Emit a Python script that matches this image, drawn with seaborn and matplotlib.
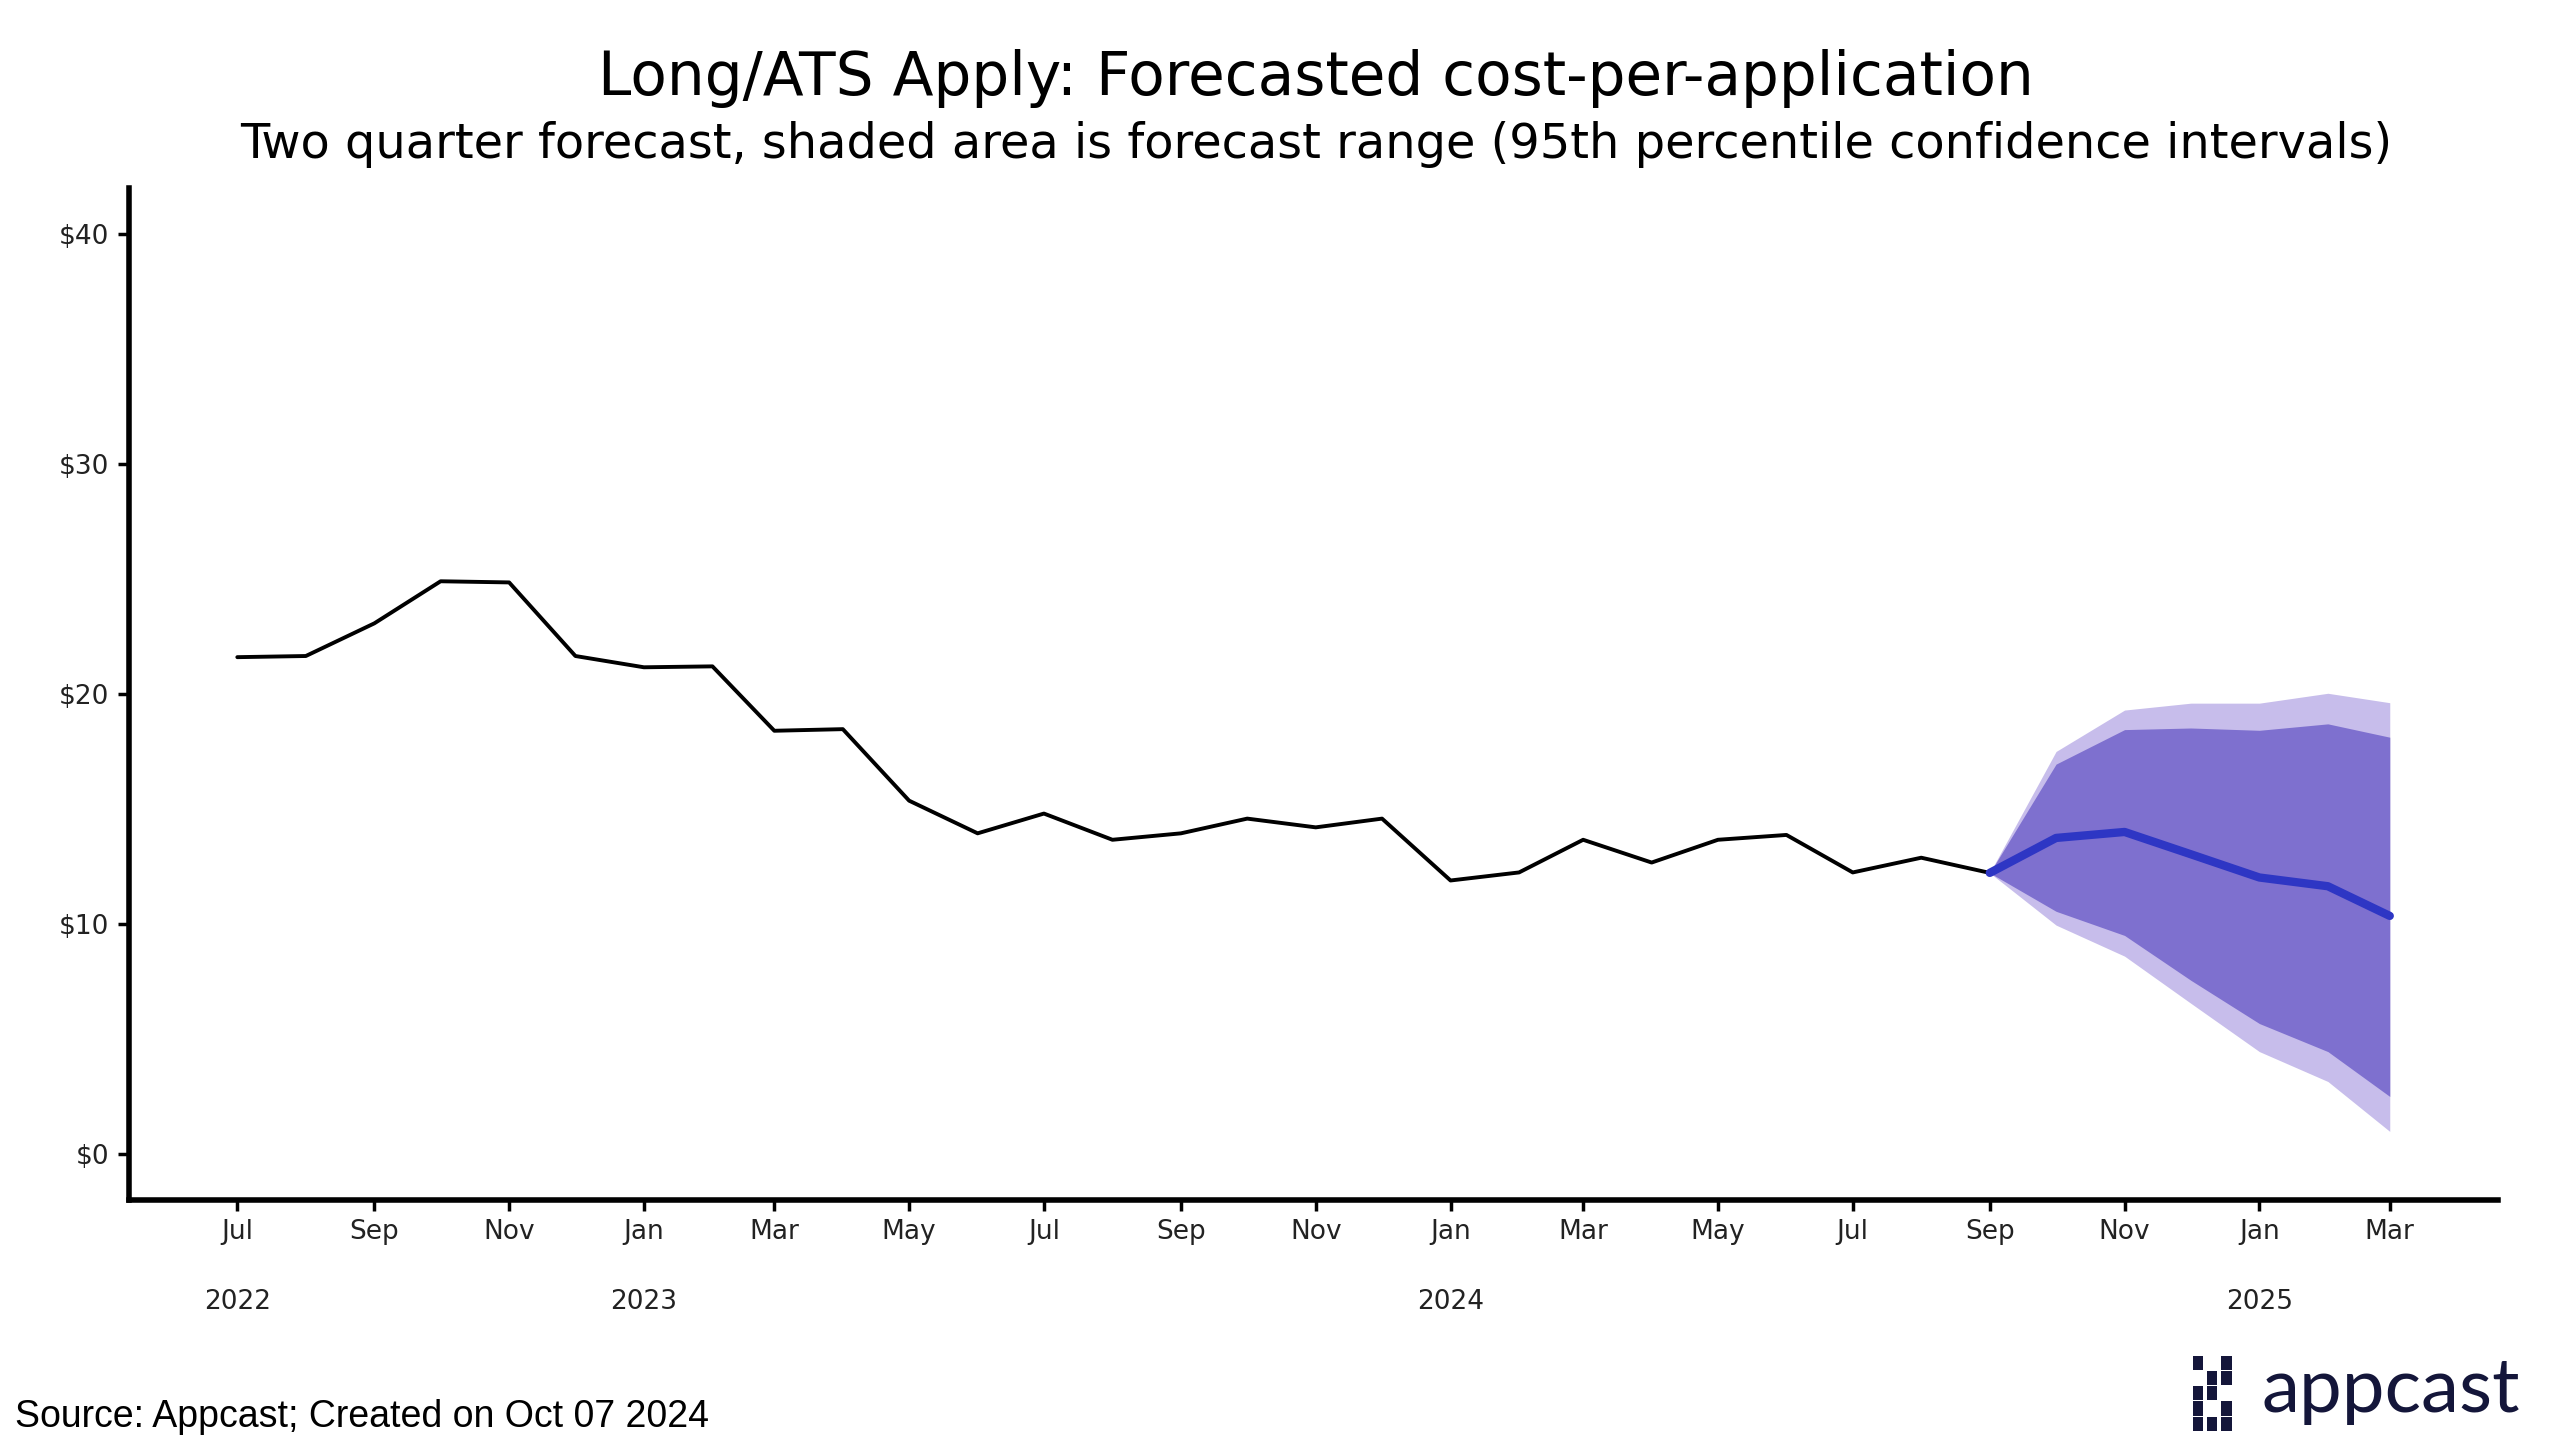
import numpy as np
import pandas as pd
import matplotlib
matplotlib.use('Agg')
import matplotlib.pyplot as plt
import matplotlib.dates as mdates
import matplotlib.transforms as mtransforms
from matplotlib.patches import Rectangle
import seaborn as sns

# Historical cost-per-application, Jul 2022 - Sep 2024
hist_start = '2022-07-01'
hist_cpa = [21.6, 21.65, 23.07, 24.9, 24.85, 21.65, 21.16, 21.2, 18.4, 18.47,
            15.36, 13.94, 14.8, 13.66, 13.94, 14.58, 14.2, 14.58, 11.89, 12.24,
            13.66, 12.67, 13.66, 13.87, 12.24, 12.88, 12.22]

# Forecast Sep 2024 - Mar 2025
fc_start = '2024-09-01'
fc_mean = [12.22, 13.74, 14.0, 13.03, 12.02, 11.64, 10.35]
fc_lo80 = [12.22, 10.55, 9.5, 7.55, 5.67, 4.45, 2.5]
fc_hi80 = [12.22, 16.95, 18.45, 18.52, 18.42, 18.7, 18.12]
fc_lo95 = [12.22, 9.95, 8.6, 6.55, 4.45, 3.15, 0.98]
fc_hi95 = [12.22, 17.5, 19.3, 19.6, 19.6, 20.03, 19.62]

y_ticks = [0, 10, 20, 30, 40]
year_labels = ['2022', '2023', '2024', '2025']
year_dates = ['2022-07-01', '2023-01-01', '2024-01-01', '2025-01-01']

hist = pd.DataFrame({'date': pd.date_range(hist_start, periods=len(hist_cpa), freq='MS'),
                     'cpa': hist_cpa})
fc = pd.DataFrame({'date': pd.date_range(fc_start, periods=len(fc_mean), freq='MS'),
                   'mean': fc_mean, 'lo80': fc_lo80, 'hi80': fc_hi80,
                   'lo95': fc_lo95, 'hi95': fc_hi95})

sns.set_theme(style='ticks')
plt.rcParams['font.family'] = ['DejaVu Sans']

fig = plt.figure(figsize=(25.6, 14.55), dpi=100)
ax = fig.add_axes([0.0504, 0.1753, 0.9254, 0.6955])

ax.fill_between(fc['date'], fc['lo95'], fc['hi95'], color='#c7bdeb', lw=0, zorder=1)
ax.fill_between(fc['date'], fc['lo80'], fc['hi80'], color='#7e70cf', lw=0, zorder=2)
sns.lineplot(data=hist, x='date', y='cpa', ax=ax, color='black', lw=2.8, zorder=3)
sns.lineplot(data=fc, x='date', y='mean', ax=ax, color='#2e36c4', lw=6, zorder=4)

all_dates = pd.concat([hist['date'], fc['date']])
pad = pd.Timedelta(days=49)
ax.set_xlim(all_dates.min() - pad, all_dates.max() + pad)
ax.set_ylim(-2, 42)

ax.set_yticks(y_ticks)
ax.set_yticklabels([f'${v}' for v in y_ticks])
ax.xaxis.set_major_locator(mdates.MonthLocator(bymonth=[1, 3, 5, 7, 9, 11]))
ax.xaxis.set_major_formatter(mdates.DateFormatter('%b'))
ax.tick_params(axis='both', labelsize=19, width=2.5, length=8, color='black',
               labelcolor='#222222')
ax.tick_params(axis='x', pad=6)
ax.tick_params(axis='y', pad=6)
ax.set_xlabel('')
ax.set_ylabel('')
sns.despine(ax=ax)
for side in ['left', 'bottom']:
    ax.spines[side].set_linewidth(4)
    ax.spines[side].set_color('black')

trans = mtransforms.blended_transform_factory(ax.transData, ax.transAxes)
for lab, d in zip(year_labels, year_dates):
    ax.text(pd.Timestamp(d), -0.101, lab, transform=trans, ha='center', va='center',
            fontsize=19, color='#222222')

fig.text(0.514, 0.946, 'Long/ATS Apply: Forecasted cost-per-application',
         ha='center', va='center', fontsize=43, color='black')
fig.text(0.514, 0.901, 'Two quarter forecast, shaded area is forecast range '
         '(95th percentile confidence intervals)',
         ha='center', va='center', fontsize=34.5, color='black')
fig.text(0.006, 0.026, 'Source: Appcast; Created on Oct 07 2024', ha='left', va='center',
         fontsize=27, color='black', family=['Liberation Sans', 'DejaVu Sans'])

# appcast logo
navy = '#14163a'
fig.text(0.8835, 0.0445, 'appcast', ha='left', va='center', fontsize=55,
         color=navy, family=['Lato', 'DejaVu Sans'])
cells = [(0, 4), (0, 2), (0, 1), (1, 3), (1, 2), (2, 4), (2, 3), (2, 1), (2, 0), (1, 0), (0, 0)]
x0, y0, cw, ch = 0.8565, 0.0165, 0.0042, 0.0098
for c, r in cells:
    fig.add_artist(Rectangle((x0 + c * 0.0055, y0 + r * 0.0105), cw, ch,
                             transform=fig.transFigure, color=navy, lw=0))

fig.savefig('out.png', dpi=100, facecolor='white')
